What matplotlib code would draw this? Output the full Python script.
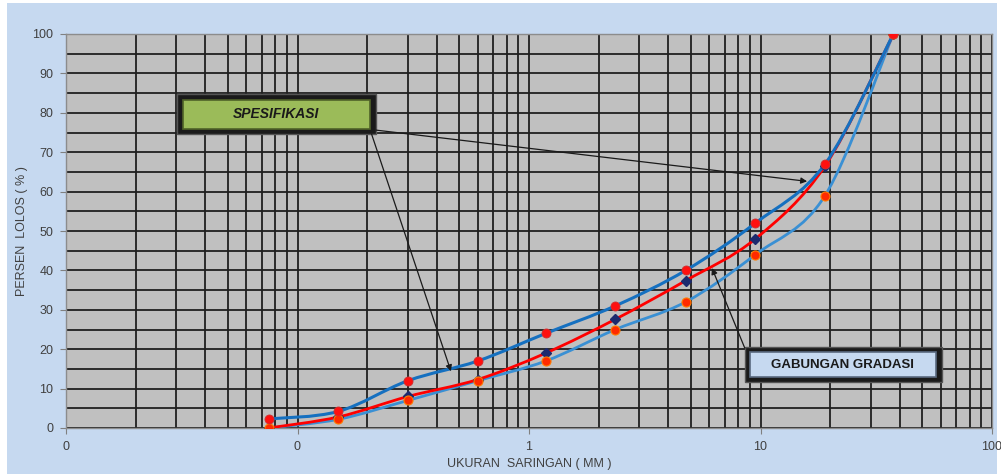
import matplotlib
matplotlib.use('Agg')
import matplotlib.pyplot as plt
from matplotlib.path import Path
from matplotlib.patches import PathPatch, Rectangle
from matplotlib.ticker import MultipleLocator, LogLocator, NullFormatter
import numpy as np

plt.rcParams['font.family'] = ['Liberation Sans', 'DejaVu Sans']

# ukuran saringan (mm) dan persen lolos
sieve_mm = [0.075, 0.15, 0.3, 0.6, 1.18, 2.36, 4.75, 9.5, 19.0, 37.5]
spec_upper = [2.3, 4.2, 12, 17, 24, 31, 40, 52, 67, 100]
spec_lower = [0, 2.2, 7, 12, 17, 25, 32, 44, 59, 100]
gabungan = [0, 2.8, 8, 12.3, 19, 27.6, 37.4, 48, 66.5, 100]

xtick_pos = [0.01, 0.1, 1, 10, 100]
xtick_labels = ['0', '0', '1', '10', '100']
ytick_pos = list(range(0, 101, 10))


def smooth_path(xs, ys):
    # Catmull-Rom style bezier in log-x space (like Excel smoothed lines)
    u = np.log10(xs)
    y = np.asarray(ys, dtype=float)
    n = len(u)
    verts = [(xs[0], y[0])]
    codes = [Path.MOVETO]
    for i in range(n - 1):
        i0 = max(i - 1, 0)
        i3 = min(i + 2, n - 1)
        c1u = u[i] + (u[i + 1] - u[i0]) / 6
        c1y = y[i] + (y[i + 1] - y[i0]) / 6
        c2u = u[i + 1] - (u[i3] - u[i]) / 6
        c2y = y[i + 1] - (y[i3] - y[i]) / 6
        verts += [(10 ** c1u, c1y), (10 ** c2u, c2y), (xs[i + 1], y[i + 1])]
        codes += [Path.CURVE4] * 3
    return Path(verts, codes)


fig = plt.figure(figsize=(10.01, 4.74), dpi=100, facecolor='white')
fig.patches.append(Rectangle((7 / 1001, 0), 990 / 1001, 471 / 474,
                             transform=fig.transFigure, fc='#c6d9f0',
                             ec='none', zorder=-10))
ax = fig.add_axes([66 / 1001, 1 - 428 / 474, 926 / 1001, 394 / 474])
ax.set_facecolor('#c0c0c0')
ax.set_xscale('log')
ax.set_xlim(0.01, 100)
ax.set_ylim(0, 100)

# grid
ax.xaxis.set_minor_locator(LogLocator(base=10, subs=np.arange(2, 10)))
ax.xaxis.set_minor_formatter(NullFormatter())
ax.yaxis.set_minor_locator(MultipleLocator(5))
ax.grid(which='both', color='#202020', linewidth=1.3)
ax.set_axisbelow(True)

ax.set_xticks(xtick_pos)
ax.set_xticklabels(xtick_labels)
ax.set_yticks(ytick_pos)
ax.tick_params(which='major', length=4, color='#808080', labelsize=9,
               labelcolor='#404040', pad=5)
ax.tick_params(which='minor', length=0)
for s in ax.spines.values():
    s.set_color('#8c8c8c')
    s.set_linewidth(1.0)

# curves
styles = [
    (spec_lower, '#3a90d4', 2.0),
    (gabungan, '#ff0000', 2.0),
    (spec_upper, '#1570c0', 2.2),
]
for vals, col, lw in styles:
    ax.add_patch(PathPatch(smooth_path(sieve_mm, vals), fc='none', ec=col,
                           lw=lw, transform=ax.transData, zorder=3,
                           capstyle='round', joinstyle='round'))

ax.plot(sieve_mm, gabungan, ls='none', marker='D', ms=5,
        mfc='#1c2a6e', mec='#1c2a6e', zorder=4)
ax.plot(sieve_mm, spec_lower, ls='none', marker='o', ms=6.5,
        mfc='#ff2a00', mec='#ff7a00', mew=0.8, zorder=5)
ax.plot(sieve_mm, spec_upper, ls='none', marker='o', ms=6.5,
        mfc='#ff1010', mec='#d03030', mew=0.6, zorder=6)

ax.set_xlabel('UKURAN  SARINGAN ( MM )', fontsize=9, color='#404040',
              labelpad=4)
ax.set_ylabel('PERSEN  LOLOS ( % )', fontsize=9, color='#404040',
              labelpad=3.5)

# label boxes
ax.add_patch(Rectangle((0.120, 0.746), 0.215, 0.102, transform=ax.transAxes,
                       fc='#1a1a1a', ec='#555555', lw=1, zorder=7))
ax.add_patch(Rectangle((0.126, 0.760), 0.202, 0.072, transform=ax.transAxes,
                       fc='#9bbb59', ec='#4f6228', lw=1.2, zorder=8))
ax.text(0.227, 0.797, 'SPESIFIKASI', transform=ax.transAxes, fontsize=10,
        fontweight='bold', fontstyle='italic', color='#1a1a1a',
        ha='center', va='center', zorder=9)

ax.add_patch(Rectangle((0.733, 0.117), 0.213, 0.089, transform=ax.transAxes,
                       fc='#1a1a1a', ec='#555555', lw=1, zorder=7))
ax.add_patch(Rectangle((0.739, 0.129), 0.201, 0.065, transform=ax.transAxes,
                       fc='#c6d9f0', ec='#5a6a80', lw=1.2, zorder=8))
ax.text(0.839, 0.161, 'GABUNGAN GRADASI', transform=ax.transAxes, fontsize=9.5,
        fontweight='bold', color='#1a1a1a', ha='center', va='center',
        zorder=9)

arrow = dict(arrowstyle='-|>', color='#1a1a1a', lw=0.9, mutation_scale=9,
             shrinkA=0, shrinkB=0)
ax.annotate('', xy=(15.9, 62.6), xytext=(0.335, 0.756),
            textcoords='axes fraction', arrowprops=arrow, zorder=10)
ax.annotate('', xy=(0.46, 14.4), xytext=(0.330, 0.746),
            textcoords='axes fraction', arrowprops=arrow, zorder=10)
ax.annotate('', xy=(6.17, 40.6), xytext=(0.733, 0.203),
            textcoords='axes fraction', arrowprops=arrow, zorder=10)

fig.savefig('out.png', dpi=100, facecolor=fig.get_facecolor())
